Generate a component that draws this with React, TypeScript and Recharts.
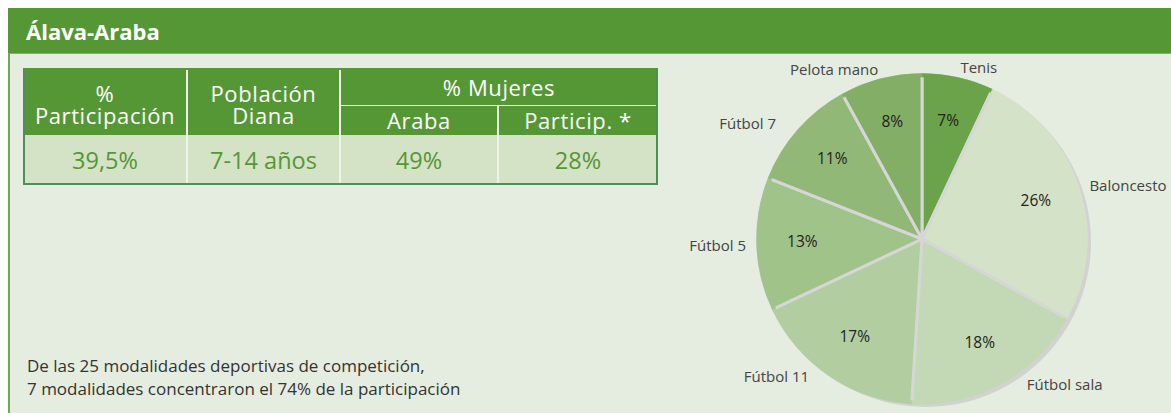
import React from "react";
import { PieChart, Pie, Cell } from "recharts";

const sports = ["Tenis", "Baloncesto", "Fútbol sala", "Fútbol 11", "Fútbol 5", "Fútbol 7", "Pelota mano"];
const shares = [7, 26, 18, 17, 13, 11, 8];
const sliceColors = ["#6aa349", "#d4e2c7", "#c3d8b4", "#b2cea0", "#a0c38a", "#91b877", "#82ae66"];

const statHeads = ["% Participación", "Población Diana", "Araba", "Particip. *"];
const statValues = ["39,5%", "7-14 años", "49%", "28%"];

const FONT = "'Open Sans', 'Noto Sans', sans-serif";
const GREEN = "#559735";
const BG = "#e5ede0";

const pieData = sports.map((name, i) => ({ name, value: shares[i] }));
const shadowData = [{ name: "shadow", value: 1 }];

const RAD = Math.PI / 180;

const renderLabel = (props: any) => {
  const { cx, cy, midAngle, outerRadius, name, value } = props;
  const cos = Math.cos(-midAngle * RAD);
  const sin = Math.sin(-midAngle * RAD);
  const ri = outerRadius * 0.73;
  const ro = outerRadius + 12;
  let ox = cx + ro * cos;
  let oy = cy + ro * sin;
  // push diagonal labels sideways, lift the lower ones a bit
  if (Math.abs(cos) > 0.3 && Math.abs(cos) < 0.9) ox += cos > 0 ? 20 : -14;
  if (sin > 0.5) oy -= 9;
  const anchor = Math.abs(cos) < 0.05 ? "middle" : cos > 0 ? "start" : "end";
  return (
    <g>
      <text x={cx + ri * cos} y={cy + ri * sin - 2} textAnchor="middle" dominantBaseline="central"
        fontSize={15.5} fill="#222" fontFamily={FONT}>
        {value}%
      </text>
      <text x={ox} y={oy} textAnchor={anchor} dominantBaseline="central"
        fontSize={15} fill="#444" fontFamily={FONT}>
        {name}
      </text>
    </g>
  );
};

const cell = (left: number, top: number, width: number, height: number, extra: React.CSSProperties = {}) => ({
  position: "absolute" as const,
  left, top, width, height,
  display: "flex", alignItems: "center", justifyContent: "center",
  textAlign: "center" as const,
  boxSizing: "border-box" as const,
  ...extra,
});

export default function App() {
  const head: React.CSSProperties = { color: "#fff", fontSize: 22, lineHeight: "22px", letterSpacing: 0.6 };
  const val: React.CSSProperties = { color: GREEN, fontSize: 23.5, background: "#d4e2c6" };
  return (
    <div style={{ position: "absolute", left: 8, top: 8, width: 1163, height: 405, background: BG, fontFamily: FONT, overflow: "hidden" }}>
      {/* header band */}
      <div style={{ position: "absolute", left: 0, top: 0, width: 1163, height: 46, background: GREEN, borderBottom: "1px solid #80b066", boxSizing: "border-box" }} />
      <div style={{ position: "absolute", left: 18, top: 0, height: 46, display: "flex", alignItems: "center", color: "#fff", fontWeight: 700, fontSize: 22 }}>
        Álava-Araba
      </div>
      <div style={{ position: "absolute", left: 0, top: 46, width: 2, height: 359, background: "#6fa859" }} />

      {/* stats table */}
      <div style={{ position: "absolute", left: 15, top: 60, width: 635, height: 67, background: GREEN }} />
      <div style={cell(15, 60, 164, 67, { ...head, paddingTop: 4 })}>%<br />Participación</div>
      <div style={cell(179, 60, 153, 67, { ...head, paddingTop: 4 })}>Población<br />Diana</div>
      <div style={cell(332, 60, 318, 37, { ...head, paddingTop: 1 })}>% Mujeres</div>
      <div style={cell(332, 97, 158, 30, head)}>{statHeads[2]}</div>
      <div style={cell(490, 97, 160, 30, head)}>{statHeads[3]}</div>
      <div style={cell(15, 127, 164, 49, val)}>{statValues[0]}</div>
      <div style={cell(179, 127, 153, 49, val)}>{statValues[1]}</div>
      <div style={cell(332, 127, 158, 49, val)}>{statValues[2]}</div>
      <div style={cell(490, 127, 160, 49, val)}>{statValues[3]}</div>
      {/* dividers */}
      <div style={{ position: "absolute", left: 178, top: 61, width: 2, height: 115, background: "#eef3ea" }} />
      <div style={{ position: "absolute", left: 331, top: 61, width: 2, height: 115, background: "#eef3ea" }} />
      <div style={{ position: "absolute", left: 489, top: 97, width: 2, height: 79, background: "#eef3ea" }} />
      <div style={{ position: "absolute", left: 332, top: 97, width: 318, height: 1, background: "#eef3ea" }} />
      {/* table border */}
      <div style={{ position: "absolute", left: 15, top: 60, width: 635, height: 117, border: "2px solid #4e8e58", borderTopColor: GREEN, boxSizing: "border-box" }} />

      <div style={{ position: "absolute", left: 19, top: 346, fontSize: 17, lineHeight: "23px", color: "#333" }}>
        De las 25 modalidades deportivas de competición,<br />
        7 modalidades concentraron el 74% de la participación
      </div>

      <div style={{ position: "absolute", left: 600, top: 46 }}>
        <PieChart width={563} height={359}>
          <Pie data={shadowData} dataKey="value" cx={313} cy={183} outerRadius={165}
            fill="#d2d2d2" stroke="none" isAnimationActive={false} />
          <Pie data={pieData} dataKey="value" nameKey="name" cx={309} cy={180} outerRadius={164}
            startAngle={90} endAngle={-270} stroke="#d6d6d6" strokeWidth={3}
            label={renderLabel} labelLine={false} isAnimationActive={false}>
            {pieData.map((d, i) => (
              <Cell key={d.name} fill={sliceColors[i]} />
            ))}
          </Pie>
          {/* rim over the outer stroke so only the separators stay grey */}
          <Pie data={pieData} dataKey="value" nameKey="name" cx={309} cy={180} innerRadius={162} outerRadius={165.5}
            startAngle={90} endAngle={-270} strokeWidth={0.5} isAnimationActive={false}>
            {pieData.map((d, i) => (
              <Cell key={d.name} fill={sliceColors[i]} stroke={sliceColors[i]} />
            ))}
          </Pie>
        </PieChart>
      </div>
    </div>
  );
}
